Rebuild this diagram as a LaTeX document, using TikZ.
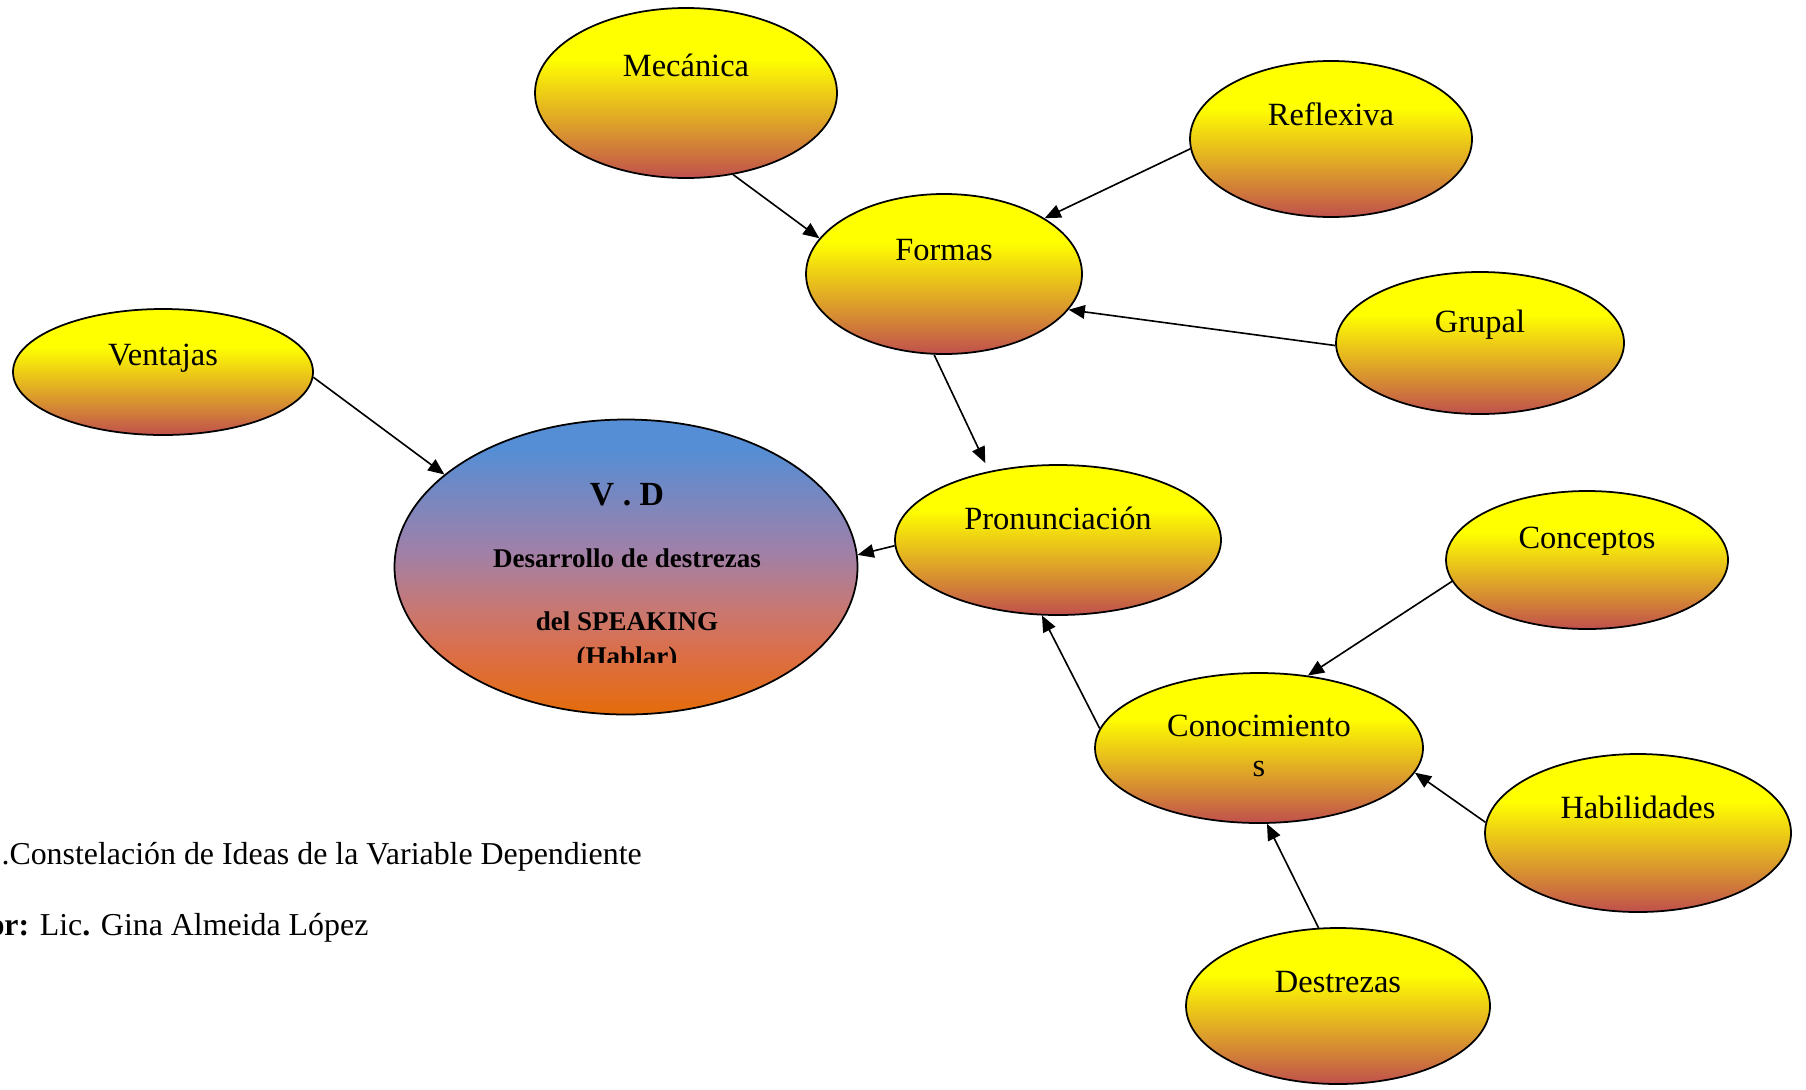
\documentclass[tikz,border=0pt]{standalone}
\usepackage{fontspec}
\setmainfont{Liberation Serif}
\usetikzlibrary{shapes.geometric,arrows.meta}

\definecolor{ovtop}{RGB}{255,255,0}
\definecolor{ovbot}{RGB}{192,80,77}
\definecolor{vdtop}{RGB}{85,142,213}
\definecolor{vdmid}{RGB}{160,128,168}
\definecolor{vdpink}{RGB}{200,120,115}
\definecolor{vdsalm}{RGB}{220,110,70}
\definecolor{vdbot}{RGB}{228,108,10}

% yellow to red, top part stays yellow
\pgfdeclareverticalshading{ovshade}{100bp}{color(0bp)=(ovbot); color(25bp)=(ovbot);
  color(60bp)=(ovtop); color(75bp)=(ovtop); color(100bp)=(ovtop)}
% blue to orange through mauve
\pgfdeclareverticalshading{vdshade}{100bp}{color(0bp)=(vdbot); color(25bp)=(vdbot);
  color(35bp)=(vdsalm); color(43bp)=(vdpink); color(52.5bp)=(vdmid);
  color(70bp)=(vdtop); color(100bp)=(vdtop)}

\tikzset{
  idea/.style 2 args={ellipse, draw=black, line width=0.65pt, inner sep=0pt,
    minimum width=#1*0.37pt, minimum height=#2*0.37pt, shading=ovshade},
  flecha/.style={line width=0.6pt, -{Triangle[length=6pt,width=5pt]}},
}

\begin{document}
\begin{tikzpicture}[x=0.37pt, y=-0.37pt, font=\fontsize{12}{14}\selectfont]
            \useasboundingbox (0,0) rectangle (1806,1089);

            % Ellipse V . D (centre)
            \node [ellipse, draw=black, line width=0.65pt, inner sep=0pt,
              minimum width=463*0.37pt, minimum height=295*0.37pt,
              shading=vdshade] (vd) at (626,567) {};%
            \node [anchor=base, font=\fontsize{12.5}{15}\selectfont\bfseries] (vd-a) at (627,505) {V . D};%
            \node [anchor=base, font=\fontsize{10}{12}\selectfont\bfseries] (vd-b) at (627,567) {Desarrollo de destrezas};%
            \node [anchor=base, font=\fontsize{10}{12}\selectfont\bfseries] (vd-c) at (627,630) {del SPEAKING};%
            \begin{scope}
              \clip (500,600) rectangle (760,662);
              \node [anchor=base, font=\fontsize{10}{12}\selectfont\bfseries] (vd-d) at (627,665) {(Hablar)};%
            \end{scope}

            % Ellipse Mecanica
            \node [idea={302}{170}] (mecanica) at (686,93) {};%
            \node (mecanica-t) at (686,65) {Mecánica};%

            % Ellipse Reflexiva
            \node [idea={282}{156}] (reflexiva) at (1331,139) {};%
            \node (reflexiva-t) at (1331,114) {Reflexiva};%

            % Ellipse Formas
            \node [idea={276}{160}] (formas) at (944,274) {};%
            \node (formas-t) at (944,250) {Formas};%

            % Ellipse Grupal
            \node [idea={288}{142}] (grupal) at (1480,343) {};%
            \node (grupal-t) at (1480,325) {Grupal};%

            % Ellipse Ventajas
            \node [idea={300}{126}] (ventajas) at (163,372) {};%
            \node (ventajas-t) at (163,358) {Ventajas};%

            % Ellipse Pronunciacion
            \node [idea={326}{150}] (pronun) at (1058,540) {};%
            \node (pronun-t) at (1058,518) {Pronunciación};%

            % Ellipse Conceptos
            \node [idea={282}{138}] (conceptos) at (1587,560) {};%
            \node (conceptos-t) at (1587,541) {Conceptos};%

            % Ellipse Conocimientos
            \node [idea={328}{150}] (conoc) at (1259,748) {};%
            \node (conoc-t) at (1259,726) {Conocimiento};%
            \node (conoc-s) at (1259,769) {s};%

            % Ellipse Habilidades
            \node [idea={306}{158}] (habil) at (1638,833) {};%
            \node (habil-t) at (1638,807) {Habilidades};%

            % Ellipse Destrezas
            \node [idea={304}{156}] (destrezas) at (1338,1006) {};%
            \node (destrezas-t) at (1338,982) {Destrezas};%

            % Arrows towards Formas
            \draw [flecha] (mecanica.-60.8) -- (formas.164);%
            \draw [flecha] (reflexiva.184) -- (formas.29.3);%
            \draw [flecha] (grupal.181) -- (formas.-16.8);%

            % Arrows towards Pronunciacion and V . D
            \draw [flecha, shorten >=9pt*0.37] (formas.-97) -- (pronun.135.7);%
            \draw [flecha] (ventajas.-2.3) -- (vd.153.2);%
            \draw [flecha] (pronun.182) -- (vd.3.2);%

            % Arrows towards Conocimientos
            \draw [flecha] (conoc.173.2) -- (pronun.-102.4);%
            \draw [flecha] (conceptos.189.8) -- (conoc.56.1);%
            \draw [flecha] (habil.176.6) -- (conoc.-9.9);%
            \draw [flecha] (destrezas.104.2) -- (conoc.-84);%

            % Caption lines
            \node [anchor=base west, inner sep=0pt, font=\fontsize{11.8}{14}\selectfont] (caption) at (1,864) {.Constelación de Ideas de la Variable Dependiente};%
            \node [anchor=base west, inner sep=0pt, font=\fontsize{11.8}{14}\selectfont] (autor) at (-12,935) {\textbf{or:} Lic\textbf{.} Gina Almeida López};%
\end{tikzpicture}
\end{document}
